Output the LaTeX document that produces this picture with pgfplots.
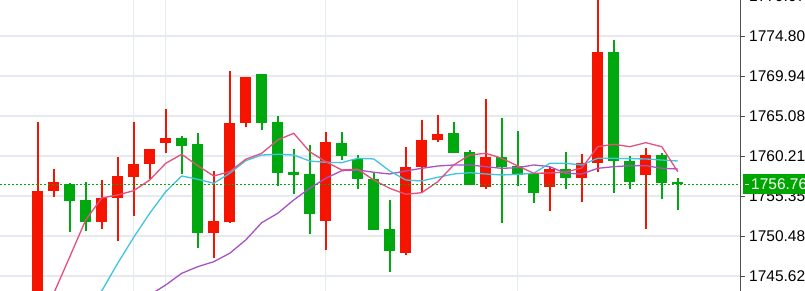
\documentclass[border=0pt]{standalone}
\usepackage{pgfplots}
\pgfplotsset{compat=1.18}
\usepackage{pgfplotstable}
\usepackage{fontspec}
\setmainfont{Liberation Sans}
\definecolor{upc}{RGB}{245,20,0}
\definecolor{dnc}{RGB}{0,168,16}
\definecolor{gridc}{HTML}{E6E9EE}
\definecolor{pinkc}{HTML}{E2507C}
\definecolor{cyanc}{HTML}{40C4E2}
\definecolor{purpc}{HTML}{A852C6}
\definecolor{boxc}{HTML}{00A600}

% up (bullish, red) candles: open, close
\pgfplotstableread{
i o c
0 1742.5 1755.99
1 1755.95 1757.05
4 1752.15 1755.14
5 1755.07 1757.74
6 1757.66 1759.27
7 1759.24 1761.06
8 1761.75 1762.36
11 1750.85 1752.27
12 1752.15 1764.26
13 1764.22 1769.78
18 1752.27 1761.88
23 1748.45 1758.84
24 1758.84 1762.12
25 1762.12 1762.89
28 1756.44 1760.09
32 1756.40 1758.63
34 1757.53 1759.40
35 1759.32 1772.82
38 1757.86 1760.30
}\upcandles

% down (bearish, green) candles: open, close
\pgfplotstableread{
i o c
2 1756.84 1754.70
3 1754.90 1752.15
9 1762.36 1761.43
10 1761.63 1750.85
14 1770.18 1764.22
15 1764.31 1758.14
16 1758.23 1757.90
17 1758.02 1753.19
19 1761.83 1760.21
20 1759.88 1757.41
21 1757.45 1751.21
22 1751.30 1748.62
26 1763.04 1760.57
27 1760.70 1756.65
29 1760.09 1758.84
30 1759.03 1757.90
31 1757.98 1755.75
33 1758.63 1757.57
36 1772.82 1759.57
37 1759.57 1757.08
39 1760.30 1756.93
40 1757.01 1756.76
}\dncandles

% wicks: low and high of each candle, broken by nan rows
\pgfplotstableread{
i p
0 1742.0
0 1764.31
0 nan
1 1755.26
1 1758.59
1 nan
4 1751.30
4 1757.29
4 nan
5 1749.87
5 1760.05
5 nan
6 1752.91
6 1764.35
6 nan
7 1757.38
7 1761.10
7 nan
8 1760.61
8 1765.93
8 nan
11 1747.84
11 1758.42
11 nan
12 1752.10
12 1770.55
12 nan
13 1763.74
13 1769.85
13 nan
18 1748.78
18 1763.13
18 nan
23 1748.17
23 1761.27
23 nan
24 1755.87
24 1764.59
24 nan
25 1761.95
25 1765.16
25 nan
28 1756.23
28 1767.14
28 nan
32 1753.52
32 1758.91
32 nan
34 1754.58
34 1760.42
34 nan
35 1758.30
35 1781.00
35 nan
38 1751.30
38 1761.15
}\upwicks

\pgfplotstableread{
i p
2 1751.00
2 1756.89
2 nan
3 1751.13
3 1757.01
3 nan
9 1758.02
9 1762.64
9 nan
10 1748.98
10 1762.97
10 nan
14 1763.37
14 1770.20
14 nan
15 1756.56
15 1765.07
15 nan
16 1755.59
16 1761.10
16 nan
17 1750.69
17 1761.55
17 nan
19 1759.72
19 1763.09
19 nan
20 1756.16
20 1760.33
20 nan
21 1751.21
21 1758.11
21 nan
22 1746.14
22 1754.86
22 nan
26 1760.57
26 1764.38
26 nan
27 1756.65
27 1760.94
27 nan
29 1752.10
29 1764.80
29 nan
30 1756.56
30 1763.29
30 nan
31 1754.46
31 1758.11
31 nan
33 1756.16
33 1760.70
33 nan
36 1755.67
36 1774.32
36 nan
37 1756.23
37 1760.25
37 nan
39 1754.94
39 1760.57
39 nan
40 1753.64
40 1757.50
}\dnwicks

\pgfplotstableread{
i v
1 1743.5
2 1747.93
3 1752.43
4 1755.10
5 1755.47
6 1755.99
7 1757.29
8 1759.32
9 1760.42
10 1759.03
11 1757.78
12 1758.30
13 1759.81
14 1760.54
15 1762.16
16 1762.97
17 1760.73
18 1759.52
19 1758.51
20 1758.59
21 1757.29
22 1756.28
23 1755.55
24 1755.75
25 1757.08
26 1759.12
27 1760.33
28 1760.54
29 1759.93
30 1758.99
31 1758.11
32 1758.14
33 1758.26
34 1758.75
35 1761.34
36 1761.63
37 1761.34
38 1761.83
39 1761.34
40 1758.30
}\pinkma

\pgfplotstableread{
i v
3 1740.3
4 1743.79
5 1747.16
6 1750.32
7 1753.24
8 1755.87
9 1757.78
10 1757.38
11 1756.89
12 1758.11
13 1759.64
14 1760.33
15 1760.42
16 1760.33
17 1759.60
18 1759.44
19 1759.40
20 1759.93
21 1759.85
22 1758.39
23 1757.29
24 1757.17
25 1757.62
26 1758.02
27 1758.18
28 1758.02
29 1757.90
30 1757.98
31 1758.11
32 1759.32
33 1759.32
34 1759.12
35 1759.93
36 1759.93
37 1759.88
38 1759.85
39 1759.72
40 1759.60
}\cyanma

\pgfplotstableread{
i v
7 1743.3
8 1744.52
9 1745.94
10 1746.75
11 1747.35
12 1748.38
13 1749.99
14 1752.10
15 1753.24
16 1754.86
17 1756.28
18 1757.50
19 1758.42
20 1758.51
21 1758.23
22 1758.02
23 1758.39
24 1758.71
25 1758.99
26 1759.12
27 1759.12
28 1758.91
29 1758.71
30 1758.79
31 1759.12
32 1758.91
33 1758.11
34 1758.02
35 1758.71
36 1758.91
37 1759.03
38 1759.03
39 1758.71
40 1758.63
}\purpma

\begin{document}
\begin{tikzpicture}
\begin{axis}[
  scale only axis,
  width=740bp, height=305.94bp,
  xmin=-2.356, xmax=43.89,
  ymin=1743.79, ymax=1781.0,
  axis line style={draw=none},
  xtick={6,8,18,30}, xticklabels={},
  xmajorgrids, ymajorgrids,
  grid style={gridc, line width=1.2bp},
  x tick style={draw=none},
  ytick={1745.62,1750.48,1755.35,1760.21,1765.08,1769.94,1774.80,1779.67},
  yticklabels={1745.62,1750.48,1755.35,1760.21,1765.08,1769.94,1774.80,1779.67},
  ytick pos=right, yticklabel pos=right,
  tick align=outside, major tick length=5bp,
  y tick style={black!70, line width=0.7bp},
  yticklabel style={font=\fontsize{15.5bp}{18bp}\selectfont, anchor=west, inner sep=0pt, xshift=4bp},
  unbounded coords=jump,
]
% wicks
\addplot[color=upc, line width=1.7bp, mark=none] table[x=i, y=p] {\upwicks};
\addplot[color=dnc, line width=1.7bp, mark=none] table[x=i, y=p] {\dnwicks};
% bodies
\addplot[upc, draw=none, mark=none, error bars/.cd, y dir=plus, y explicit, error mark=none,
  error bar style={color=upc, line width=11bp}]
  table[x=i, y=o, y error plus expr={max(\thisrow{c}-\thisrow{o},0.2)}] {\upcandles};
\addplot[dnc, draw=none, mark=none, error bars/.cd, y dir=plus, y explicit, error mark=none,
  error bar style={color=dnc, line width=11bp}]
  table[x=i, y=c, y error plus expr={max(\thisrow{o}-\thisrow{c},0.2)}] {\dncandles};
% moving averages
\addplot[purpc, line width=1.3bp, mark=none] table[x=i, y=v] {\purpma};
\addplot[cyanc, line width=1.3bp, mark=none] table[x=i, y=v] {\cyanma};
\addplot[pinkc, line width=1.3bp, mark=none] table[x=i, y=v] {\pinkma};
% current price
\addplot[dnc, line width=1.3bp, dash pattern=on 1.5bp off 2.5bp, mark=none]
  coordinates {(-2.356,1756.76) (43.89,1756.76)};
\coordinate (cp) at (axis cs:43.89,1756.76);
\end{axis}
\draw[black!70, line width=0.8bp] (740bp,0) -- (740bp,291bp);
\node[fill=boxc, text=white, anchor=west, inner sep=0pt, minimum height=20bp,
  minimum width=70bp, align=left, text width=70bp, font=\fontsize{15.5bp}{18bp}\selectfont]
  at ([xshift=3bp]cp) {\hspace{2bp}\rule[4.5bp]{4bp}{0.8bp}\hspace{2bp}1756.76};
\pgfresetboundingbox
\path[use as bounding box] (0,0) rectangle (805bp,291bp);
\end{tikzpicture}
\end{document}
